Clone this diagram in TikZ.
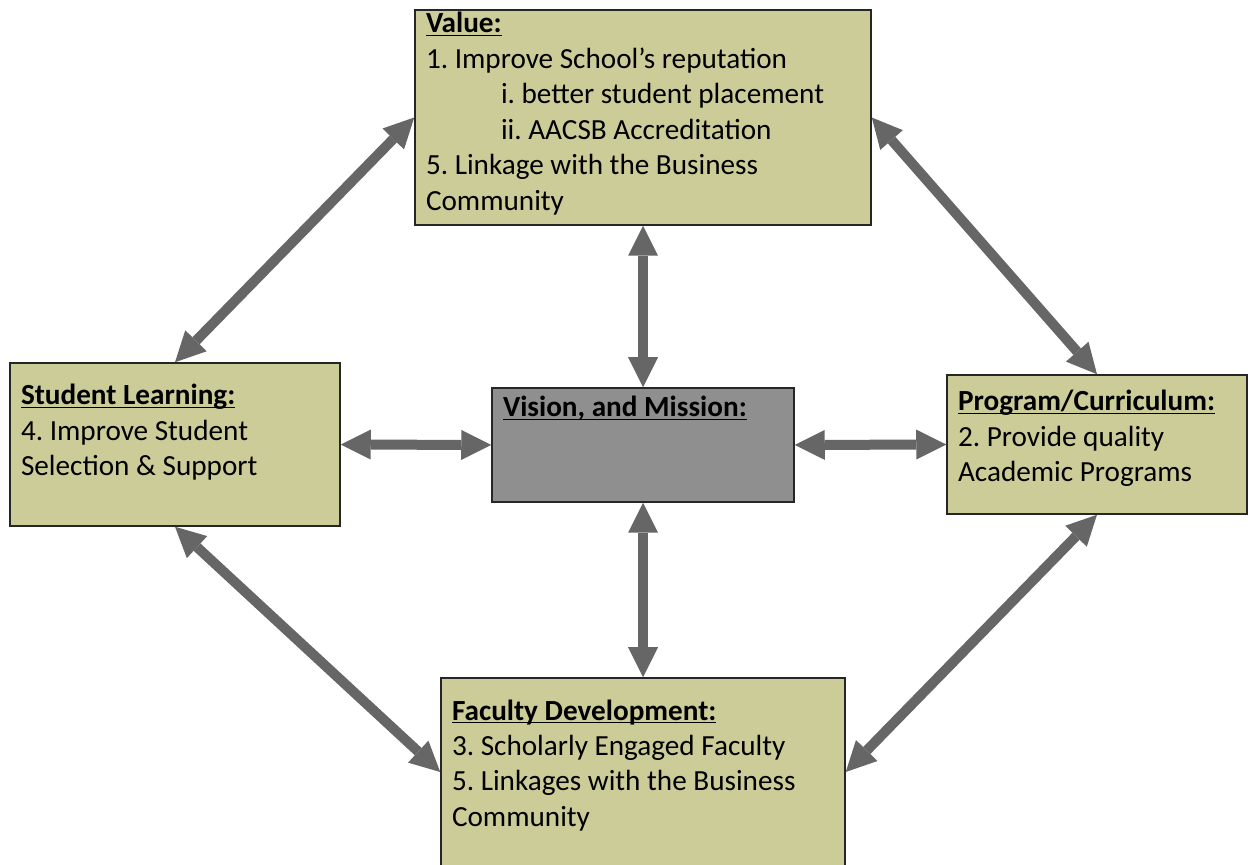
\documentclass[tikz,border=0pt]{standalone}
\usepackage{fontspec}
\setmainfont{Carlito}
\usetikzlibrary{arrows.meta}
\frenchspacing

\definecolor{goalfill}{RGB}{204,204,153}
\definecolor{visionfill}{RGB}{143,143,143}
\definecolor{linkgray}{RGB}{102,102,102}

% width, height, first baseline, text
\newcommand{\goaltext}[4]{\parbox[c][#2][t]{#1}{\raggedright\rule{0pt}{#3}#4}}
% bold heading with underline
\newcommand{\goalhead}[1]{\setbox0\hbox{\textbf{#1}}\rlap{\rule[-1.6pt]{\wd0}{0.8pt}}\box0}

\tikzset{
  goal/.style={draw=black!85, line width=0.75pt, fill=goalfill, inner xsep=5.5pt, inner ysep=0pt,
    font=\fontsize{14.6pt}{17.75pt}\selectfont},
  link/.style={draw=linkgray, line width=5pt,
    {Triangle[length=15pt,width=15pt,line width=0pt]}-{Triangle[length=15pt,width=15pt,line width=0pt]}},
}

\begin{document}
\begin{tikzpicture}[x=0.5pt, y=-0.5pt]
      \useasboundingbox (0, 0) rectangle (1248, 865);
      \clip (0, 0) rectangle (1248, 865);
      \node[goal] (val) at (643, 117.5) {\goaltext{217pt}{107.5pt}{11.5pt}{%
        \goalhead{Value:}\\
        1. Improve School’s reputation\\
        \hspace*{37.5pt}i. better student placement\\
        \hspace*{37.5pt}ii. AACSB Accreditation\\
        5. Linkage with the Business\\
        Community}};
      \node[goal] (stu) at (175, 444.5) {\goaltext{154pt}{81.5pt}{21pt}{%
        \goalhead{Student Learning:}\\
        4. Improve Student\\
        Selection \& Support}};
      \node[goal, fill=visionfill] (vis) at (643, 445) {\goaltext{140pt}{57pt}{14.5pt}{%
        \goalhead{Vision, and Mission:}}};
      \node[goal] (prg) at (1097, 444.5) {\goaltext{139pt}{69.5pt}{18pt}{%
        \goalhead{Program/Curriculum:}\\
        2. Provide quality\\
        Academic Programs}};
      \node[goal] (fac) at (643, 772) {\goaltext{191pt}{94pt}{21pt}{%
        \goalhead{Faculty Development:}\\
        3. Scholarly Engaged Faculty\\
        5. Linkages with the Business\\
        Community}};
      \draw[link] (val.west) -- (stu.north);
      \draw[link] (val.east) -- (prg.north);
      \draw[link] (val.south) -- (vis.north);
      \draw[link] (stu.east) -- (vis.west);
      \draw[link] (vis.east) -- (prg.west);
      \draw[link] (vis.south) -- (fac.north);
      \draw[link] (stu.south) -- (fac.west);
      \draw[link] (prg.south) -- (fac.east);
    \end{tikzpicture}
\end{document}
